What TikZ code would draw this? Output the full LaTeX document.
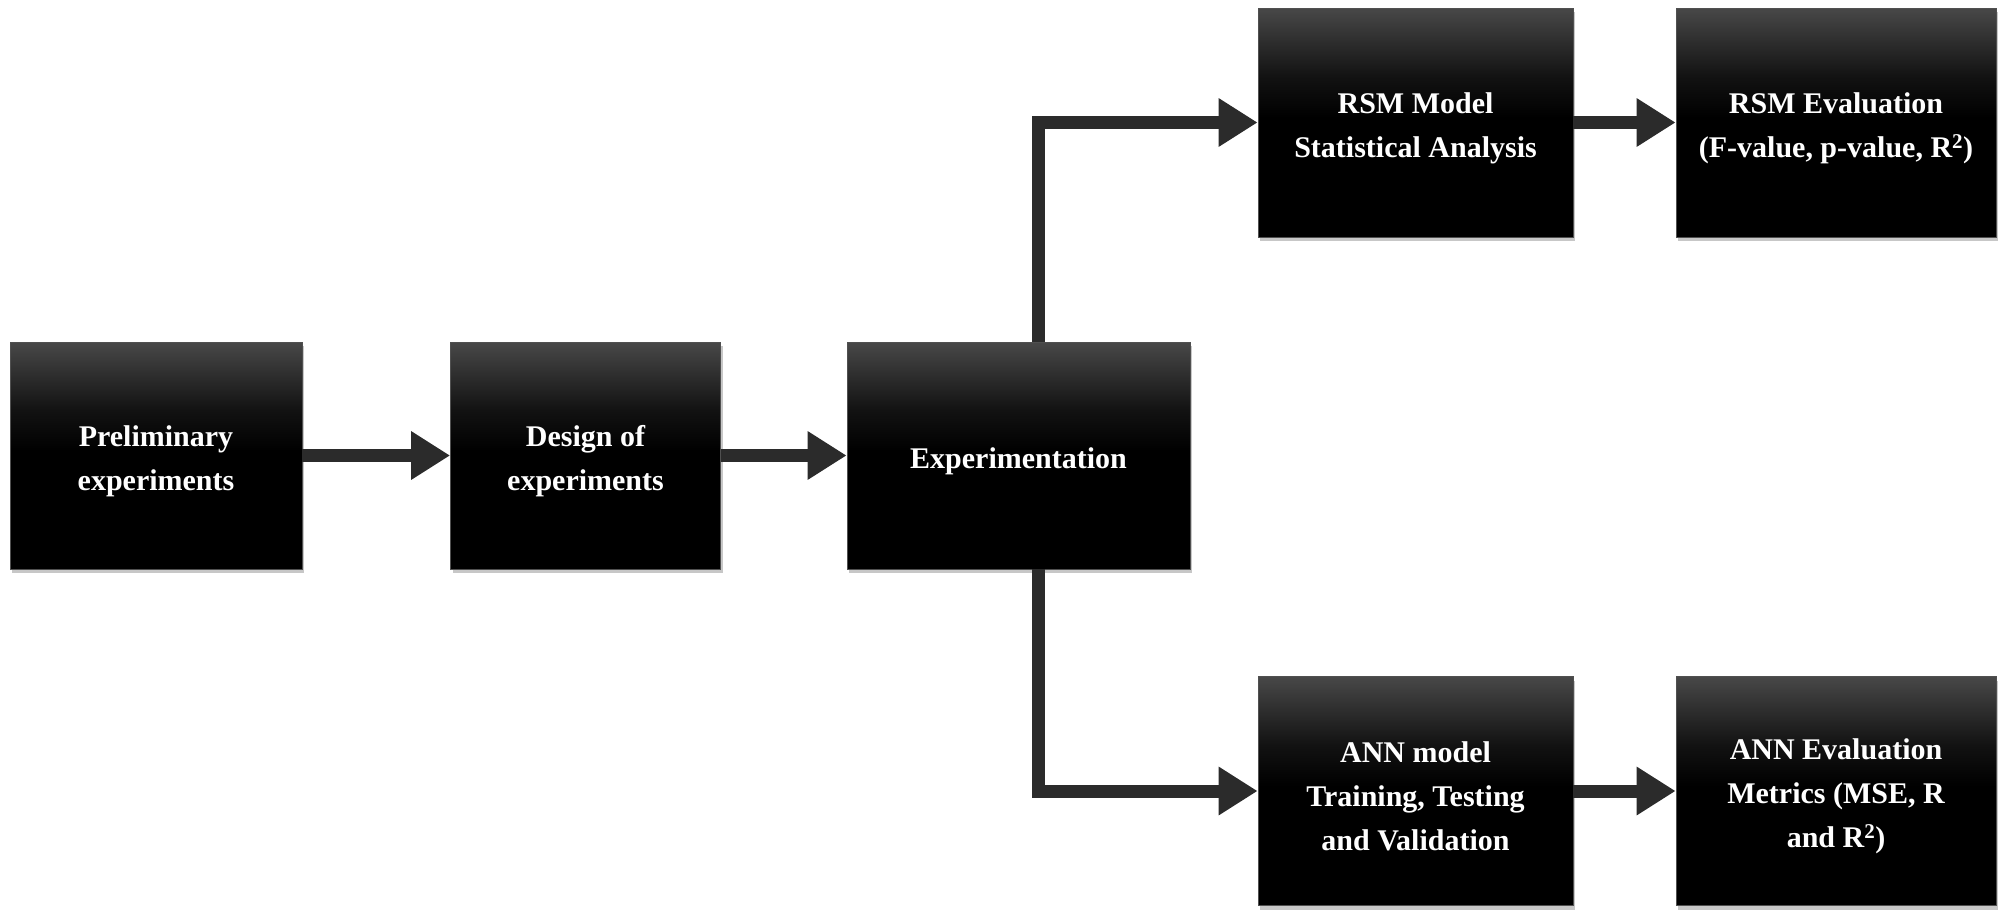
\documentclass[tikz,border=0pt]{standalone}
\usepackage{fontspec}
\setmainfont{Liberation Serif}
\usetikzlibrary{arrows.meta,shadows}
\definecolor{arrowgray}{RGB}{43,43,43}
\definecolor{boxtop}{RGB}{72,72,72}
\definecolor{boxedge}{RGB}{80,80,80}
\pgfdeclareverticalshading{boxshade}{100bp}{color(0bp)=(black); color(51bp)=(black); color(60bp)=(black!75!boxtop); color(75bp)=(boxtop); color(100bp)=(boxtop)}
\newcommand\tstrut{\rule{0pt}{32pt}}
\begin{document}
\begin{tikzpicture}[x=1pt,y=-1pt,
  box/.style={rectangle, inner sep=0pt, align=center, text=white,
    font=\fontsize{30}{44}\selectfont\bfseries,
    draw=boxedge, line width=0.8pt,
    shading=boxshade,
    drop shadow={shadow xshift=2pt, shadow yshift=-4pt, opacity=0.22, fill=black}},
  conn/.style={draw=arrowgray, line width=13pt, line join=miter,
    -{Triangle[length=39pt,width=46pt,fill=arrowgray]}}]
\useasboundingbox (0,0) rectangle (2007,921);
\node[box, minimum width=292pt, minimum height=227pt] (prelim) at (156,455.5) {\tstrut Preliminary\\experiments};
\node[box, minimum width=270pt, minimum height=227pt] (design) at (585.5,455.5) {\tstrut Design of\\experiments};
\node[box, minimum width=343pt, minimum height=227pt] (exp) at (1018.5,455.5) {\tstrut Experimentation};
\node[box, minimum width=315pt, minimum height=229pt] (rsm) at (1415.5,122.5) {\tstrut RSM Model\\Statistical Analysis};
\node[box, minimum width=320pt, minimum height=229pt] (rsmeval) at (1836,122.5) {\tstrut RSM Evaluation\\(F-value, p-value, R\textsuperscript{2})};
\node[box, minimum width=315pt, minimum height=229pt] (ann) at (1415.5,791) {\tstrut ANN model\\Training, Testing\\and Validation};
\node[box, minimum width=320pt, minimum height=229pt] (anneval) at (1836,791) {\tstrut ANN Evaluation\\Metrics (MSE, R\\and R\textsuperscript{2})};
\draw[conn] (prelim) -- (design);
\draw[conn] (design) -- (exp);
\draw[conn] ([xshift=19.5pt]exp.north) |- (rsm.west);
\draw[conn] ([xshift=19.5pt]exp.south) |- (ann.west);
\draw[conn] (rsm) -- (rsmeval);
\draw[conn] (ann) -- (anneval);
\end{tikzpicture}
\end{document}
